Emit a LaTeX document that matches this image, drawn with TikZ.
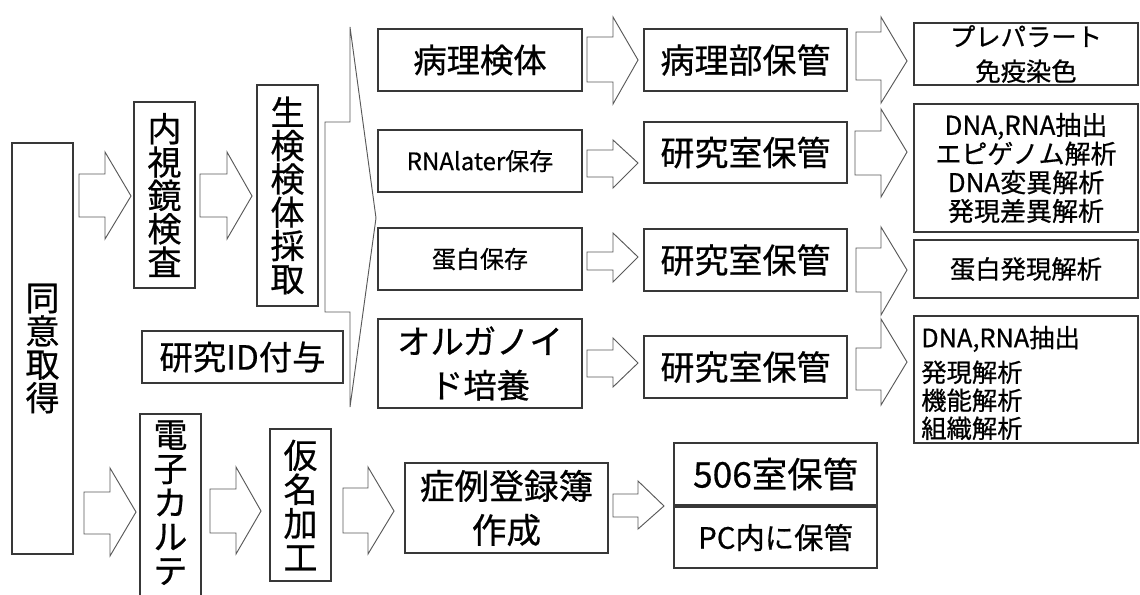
\documentclass[tikz,border=0pt]{standalone}
\usepackage{fontspec}
\setmainfont{Noto Sans CJK JP}[FakeBold=0.6]
\usetikzlibrary{fit}
\tikzset{
  box/.style={draw=black!78, line width=0.8pt, inner sep=0pt},
  txt/.style={inner sep=0pt, align=center},
  barr/.style={draw=black!65, line width=0.7pt, fill=white, line join=miter},
}
\newcommand\blockarr[8]{\draw[barr] (#1,#4) -- (#2,#4) -- (#2,#6) -- (#3,#8) -- (#2,#7) -- (#2,#5) -- (#1,#5) -- cycle;}
\newcommand\fs[2]{\fontsize{#1pt}{#2pt}\selectfont}
% \bx{name}{x1}{y1}{x2}{y2}{size}{skip}{text}
\newcommand\bx[8]{%
  \node[box, fit={(#2,#3) (#4,#5)}] (#1) {};
  \node[txt, font=\fs{#6}{#7}] (#1t) at (#1.center) {#8};}
\begin{document}
\begin{tikzpicture}[x=0.75pt,y=-0.75pt]
\clip (0,0) rectangle (1140,594);
\fill[white] (0,0) rectangle (1140,594);

% block arrows
\blockarr{79}{105}{131}{174}{217}{152}{239}{196}
\blockarr{200}{227}{252}{174}{217}{152}{239}{196}
\blockarr{325}{350}{376}{122}{312}{27}{407}{218}
\blockarr{587}{613}{638}{37}{82}{17}{104}{60}
\blockarr{587}{613}{638}{150}{177}{140}{188}{163}
\blockarr{587}{613}{638}{252}{270}{233}{282}{257}
\blockarr{587}{613}{638}{350}{377}{338}{387}{363}
\blockarr{856}{881}{907}{32}{80}{17}{103}{61}
\blockarr{855}{881}{907}{131}{175}{109}{197}{152}
\blockarr{856}{881}{907}{248}{292}{227}{315}{270}
\blockarr{856}{881}{907}{348}{390}{319}{405}{362}
\blockarr{84}{110}{136}{492}{534}{468}{556}{512}
\blockarr{210}{236}{261}{489}{533}{467}{554}{511}
\blockarr{343}{368}{394}{488}{533}{467}{554}{511}
\blockarr{613}{638}{664}{494}{517}{481}{529}{506}

% left column
\bx{doi}{12}{143}{73}{554}{25.5}{25}{同\\意\\取\\得}
\bx{nai}{134}{102}{195}{288}{25.5}{25}{内\\視\\鏡\\検\\査}
\bx{sei}{257}{85}{318}{306}{25.5}{25}{生\\検\\検\\体\\採\\取}
\bx{kid}{142}{331}{343}{383}{25}{30}{研究ID付与}

% specimen column
\bx{byo}{378}{29}{582}{91}{25}{30}{病理検体}
\bx{rna}{378}{130}{582}{192}{18}{22}{RNAlater保存}
\bx{tan}{378}{228}{582}{290}{18}{22}{蛋白保存}
\bx{org}{378}{319}{582}{408}{25}{33}{オルガノイ\\ド培養}

% storage column
\bx{m1}{644}{29}{847}{91}{25.5}{30}{病理部保管}
\bx{m2}{644}{122}{847}{183}{25.5}{30}{研究室保管}
\bx{m3}{644}{229}{847}{291}{25.5}{30}{研究室保管}
\bx{m4}{644}{336}{847}{398}{25.5}{30}{研究室保管}

% analysis column
\bx{r1}{914}{23}{1138}{85}{19}{26}{プレパラート\\免疫染色}
\bx{r2}{914}{104}{1138}{232}{19.5}{21.5}{DNA,RNA抽出\\エピゲノム解析\\DNA変異解析\\発現差異解析}
\bx{r3}{914}{240}{1138}{298}{19}{24}{蛋白発現解析}
\node[box, fit={(914,316) (1138,443)}] (r4) {};
\node[txt, anchor=west, align=left, font=\fs{19}{21}] (r4t) at (921,383) {DNA,RNA抽出\\[5pt]発現解析\\機能解析\\組織解析};

% bottom row
\node[box, fit={(140,414) (201,640)}] (den) {};
\node[txt, anchor=north, font=\fs{25.5}{25.5}] (dent) at (170.5,420) {電\\子\\カ\\ル\\テ};
\bx{kari}{270}{429}{331}{581}{25.5}{25.5}{仮\\名\\加\\工}
\bx{sho}{405}{463}{608}{553}{26}{33}{症例登録簿\\作成}
\bx{s506}{674}{443}{877}{505}{26.5}{30}{506室保管}
\bx{spc}{674}{507}{877}{568}{22}{26}{PC内に保管}
\end{tikzpicture}
\end{document}
